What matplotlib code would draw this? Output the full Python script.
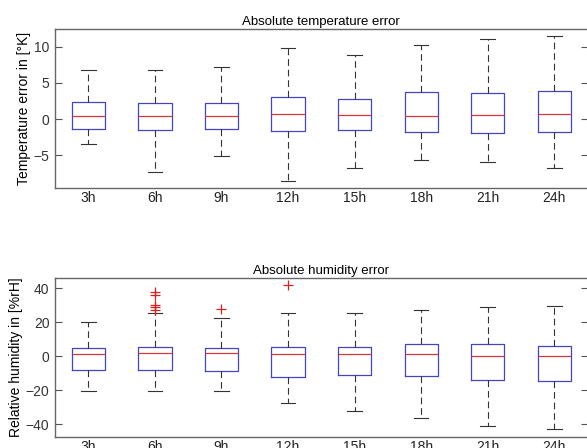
import numpy as np
import matplotlib
matplotlib.use('Agg')
import matplotlib.pyplot as plt

plt.rcParams['font.family'] = ['Liberation Sans', 'DejaVu Sans']

labels = ['3h', '6h', '9h', '12h', '15h', '18h', '21h', '24h']

# temperature error [K]
t_whishi = [6.8, 6.8, 7.2, 9.8, 8.8, 10.3, 11.1, 11.5]
t_q3     = [2.4, 2.25, 2.25, 3.05, 2.8, 3.75, 3.65, 3.9]
t_med    = [0.4, 0.4, 0.5, 0.65, 0.6, 0.4, 0.6, 0.7]
t_q1     = [-1.3, -1.55, -1.4, -1.6, -1.55, -1.8, -1.85, -1.8]
t_whislo = [-3.4, -7.25, -5.15, -8.55, -6.7, -5.6, -5.9, -6.8]

# humidity error [%rH]
h_whishi = [20.0, 25.7, 22.4, 25.3, 25.3, 27.5, 28.7, 29.8]
h_q3     = [5.0, 5.6, 4.7, 5.3, 5.3, 7.4, 7.4, 6.2]
h_med    = [1.2, 1.7, 1.7, 1.3, 1.2, 1.2, 0.0, 0.0]
h_q1     = [-8.2, -8.2, -8.8, -12.1, -11.1, -11.7, -13.9, -14.3]
h_whislo = [-20.5, -20.5, -20.5, -27.5, -32.0, -36.1, -40.9, -42.7]
h_fliers = [[], [37.6, 36.2, 30.4, 29.0, 27.0], [27.8], [41.7], [], [], [], []]


def stats(lo, q1, med, q3, hi, fl=None):
    out = []
    for i in range(len(lo)):
        out.append(dict(whislo=lo[i], q1=q1[i], med=med[i], q3=q3[i],
                        whishi=hi[i], fliers=fl[i] if fl else []))
    return out


fig = plt.figure(figsize=(5.87, 4.48), dpi=100)
ax1 = fig.add_axes([55/587, 1-188/448, 532.6/587, 159/448])
ax2 = fig.add_axes([55/587, 1-436.7/448, 532.6/587, 159/448])

boxc = '#4545c0'
for ax, st in [(ax1, stats(t_whislo, t_q1, t_med, t_q3, t_whishi)),
               (ax2, stats(h_whislo, h_q1, h_med, h_q3, h_whishi, h_fliers))]:
    ax.bxp(st, positions=np.arange(1, 9), widths=0.5, capwidths=0.22,
           boxprops=dict(color=boxc, lw=0.9),
           medianprops=dict(color='#d83838', lw=0.9),
           whiskerprops=dict(color='#333333', lw=0.8, ls=(0, (6, 3.5))),
           capprops=dict(color='#333333', lw=0.8),
           flierprops=dict(marker='+', markeredgecolor='#d82020',
                           markersize=6.5, markeredgewidth=0.9))
    ax.set_xlim(0.5, 8.5)
    ax.set_xticks(np.arange(1, 9))
    ax.set_xticklabels(labels)
    ax.tick_params(axis='x', length=0, pad=2.5, labelsize=10, colors='#222222')
    ax.tick_params(axis='y', direction='in', length=5, right=True,
                   labelsize=10, colors='#555555', labelcolor='#333333', pad=4)
    for s in ax.spines.values():
        s.set_color('#666666')
        s.set_linewidth(1.0)

ax1.set_ylim(-9.5, 12.45)
ax1.set_yticks([-5, 0, 5, 10])
ax1.set_title('Absolute temperature error', fontsize=9.5, pad=3)
ax1.set_ylabel('Temperature error in [°K]', fontsize=10, labelpad=2)

ax2.set_ylim(-47.3, 46.2)
ax2.set_yticks([-40, -20, 0, 20, 40])
ax2.set_title('Absolute humidity error', fontsize=9.5, pad=3)
ax2.set_ylabel('Relative humidity in [%rH]', fontsize=10, labelpad=2)

fig.savefig('out.png', dpi=100)
